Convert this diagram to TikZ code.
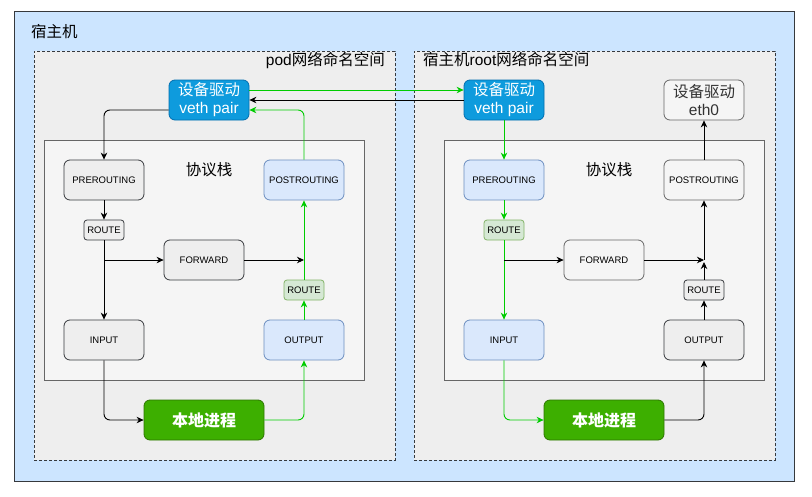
\documentclass[tikz,border=0pt]{standalone}
\usepackage{fontspec}
\setmainfont{Liberation Sans}
\newfontfamily\cjk{Noto Sans CJK SC}
\usetikzlibrary{arrows.meta,calc}
\definecolor{hostfill}{HTML}{CCE5FF}
\definecolor{darkline}{HTML}{36393D}
\definecolor{nsfill}{HTML}{EEEEEE}
\definecolor{stackfill}{HTML}{F5F5F5}
\definecolor{stackline}{HTML}{666666}
\definecolor{bluefill}{HTML}{DAE8FC}
\definecolor{blueline}{HTML}{6C8EBF}
\definecolor{gfill}{HTML}{D5E8D4}
\definecolor{gline}{HTML}{82B366}
\definecolor{vethfill}{HTML}{0E9BDD}
\definecolor{vethline}{HTML}{006EAF}
\definecolor{procfill}{HTML}{3DAF00}
\definecolor{procline}{HTML}{2D7600}
\definecolor{flowgreen}{HTML}{00CC00}
\definecolor{ethtext}{HTML}{333333}
\tikzset{
  hookbox/.style={draw=darkline, fill=nsfill, rounded corners=6pt, minimum width=80pt, minimum height=40pt, inner sep=0pt, line width=0.8pt, font=\fontsize{9.5}{11}\selectfont},
  bluebox/.style={hookbox, draw=blueline, fill=bluefill},
  routebox/.style={hookbox, minimum width=40pt, minimum height=20pt, rounded corners=3pt},
  groute/.style={routebox, draw=gline, fill=gfill},
  vethbox/.style={draw=vethline, fill=vethfill, text=white, rounded corners=6pt, minimum width=80pt, minimum height=40pt, inner sep=0pt, line width=0.8pt, align=center, font=\fontsize{15.5}{19}\selectfont},
  ethbox/.style={vethbox, draw=stackline, fill=stackfill, text=ethtext},
  procbox/.style={draw=procline, fill=procfill, text=white, rounded corners=6pt, minimum width=120pt, minimum height=40pt, inner sep=0pt, line width=0.8pt, font=\fontsize{16}{19}\selectfont\cjk\bfseries},
  nsbox/.style={draw=darkline, fill=nsfill, dashed, dash pattern=on 3pt off 2pt, line width=0.7pt, minimum width=361pt, minimum height=409pt, inner sep=0pt},
  stackbox/.style={draw=stackline, fill=stackfill, line width=0.8pt, minimum width=320pt, minimum height=240pt, inner sep=0pt},
  lbl/.style={inner sep=0pt, font=\fontsize{15.5}{18}\selectfont},
  blk/.style={draw=black, line width=0.9pt, -{Stealth[length=7pt,width=6.5pt,inset=2.2pt]}},
  grn/.style={draw=flowgreen, line width=0.9pt, -{Stealth[length=7pt,width=6.5pt,inset=2.2pt]}},
}
\begin{document}
\begin{tikzpicture}[x=1pt,y=-1pt]
\useasboundingbox (0,0) rectangle (812,496);
% host
\node[draw=darkline, fill=hostfill, line width=0.9pt, minimum width=780pt, minimum height=470pt, inner sep=0pt] (host) at (404,246) {};
\node[lbl, anchor=west] (hostlbl) at (31,32) {\cjk 宿主机};
% namespaces
\node[nsbox] (lns) at (214.5,255.5) {};
\node[nsbox] (rns) at (594.5,255.5) {};
\node[lbl, anchor=east] (lnslbl) at (385,60) {pod{\cjk 网络命名空间}};
\node[lbl, anchor=west] (rnslbl) at (423,60) {{\cjk 宿主机}root{\cjk 网络命名空间}};
% stacks
\node[stackbox] (lstack) at (204,260) {};
\node[stackbox] (rstack) at (604,260) {};
\node[lbl] (lstacklbl) at (209,170) {\cjk 协议栈};
\node[lbl] (rstacklbl) at (609,170) {\cjk 协议栈};
% left nodes
\node[vethbox] (lveth) at (209,100) {{\cjk 设备驱动}\\[-1pt]veth pair};
\node[hookbox] (lpre) at (104,180) {PREROUTING};
\node[bluebox] (lpost) at (304,180) {POSTROUTING};
\node[routebox] (lr1) at (104,230) {ROUTE};
\node[hookbox] (lfwd) at (204,260) {FORWARD};
\node[groute] (lr2) at (304,290) {ROUTE};
\node[hookbox] (lin) at (104,340) {INPUT};
\node[bluebox] (lout) at (304,340) {OUTPUT};
\node[procbox] (lproc) at (204,420) {本地进程};
% right nodes
\node[vethbox] (rveth) at (504,100) {{\cjk 设备驱动}\\[-1pt]veth pair};
\node[ethbox] (eth) at (704,100) {{\cjk 设备驱动}\\[-1pt]eth0};
\node[bluebox] (rpre) at (504,180) {PREROUTING};
\node[hookbox, draw=stackline, fill=stackfill] (rpost) at (704,180) {POSTROUTING};
\node[groute] (rr1) at (504,230) {ROUTE};
\node[hookbox, draw=stackline, fill=stackfill] (rfwd) at (604,260) {FORWARD};
\node[routebox] (rr2) at (704,290) {ROUTE};
\node[bluebox] (rin) at (504,340) {INPUT};
\node[hookbox] (rout) at (704,340) {OUTPUT};
\node[procbox] (rproc) at (604,420) {本地进程};
% junction points
\coordinate (lbr) at (104,260);
\coordinate (lmg) at (304,260);
\coordinate (rbr) at (504,260);
\coordinate (rmg) at (704,260);
% left connectors
\draw[blk, rounded corners=6pt] ($(lveth.west)+(0,10)$) -| (lpre.north);
\draw[blk] (lpre.south) -- (lr1.north);
\draw[blk] (lr1.south) -- (lin.north);
\draw[blk] (lbr) -- (lfwd.west);
\draw[blk] (lfwd.east) -- (lmg);
\draw[blk, rounded corners=6pt] (lin.south) |- (lproc.west);
\draw[grn, rounded corners=6pt] (lproc.east) -| (lout.south);
\draw[grn] (lout.north) -- (lr2.south);
\draw[grn] (lr2.north) -- (lpost.south);
\draw[grn, rounded corners=6pt] (lpost.north) |- ($(lveth.east)+(0,10)$);
% between namespaces
\draw[grn] ($(lveth.east)+(0,-10)$) -- ($(rveth.west)+(0,-10)$);
\draw[blk] (rveth.west) -- (lveth.east);
% right connectors
\draw[grn] (rveth.south) -- (rpre.north);
\draw[grn] (rpre.south) -- (rr1.north);
\draw[grn] (rr1.south) -- (rin.north);
\draw[blk] (rbr) -- (rfwd.west);
\draw[blk] (rfwd.east) -- (rmg);
\draw[grn, rounded corners=6pt] (rin.south) |- (rproc.west);
\draw[blk, rounded corners=6pt] (rproc.east) -| (rout.south);
\draw[blk] (rout.north) -- (rr2.south);
\draw[blk] (rr2.north) -- ($(rmg)+(0,2)$);
\draw[blk] (rmg) -- (rpost.south);
\draw[blk] (rpost.north) -- (eth.south);
\end{tikzpicture}
\end{document}
